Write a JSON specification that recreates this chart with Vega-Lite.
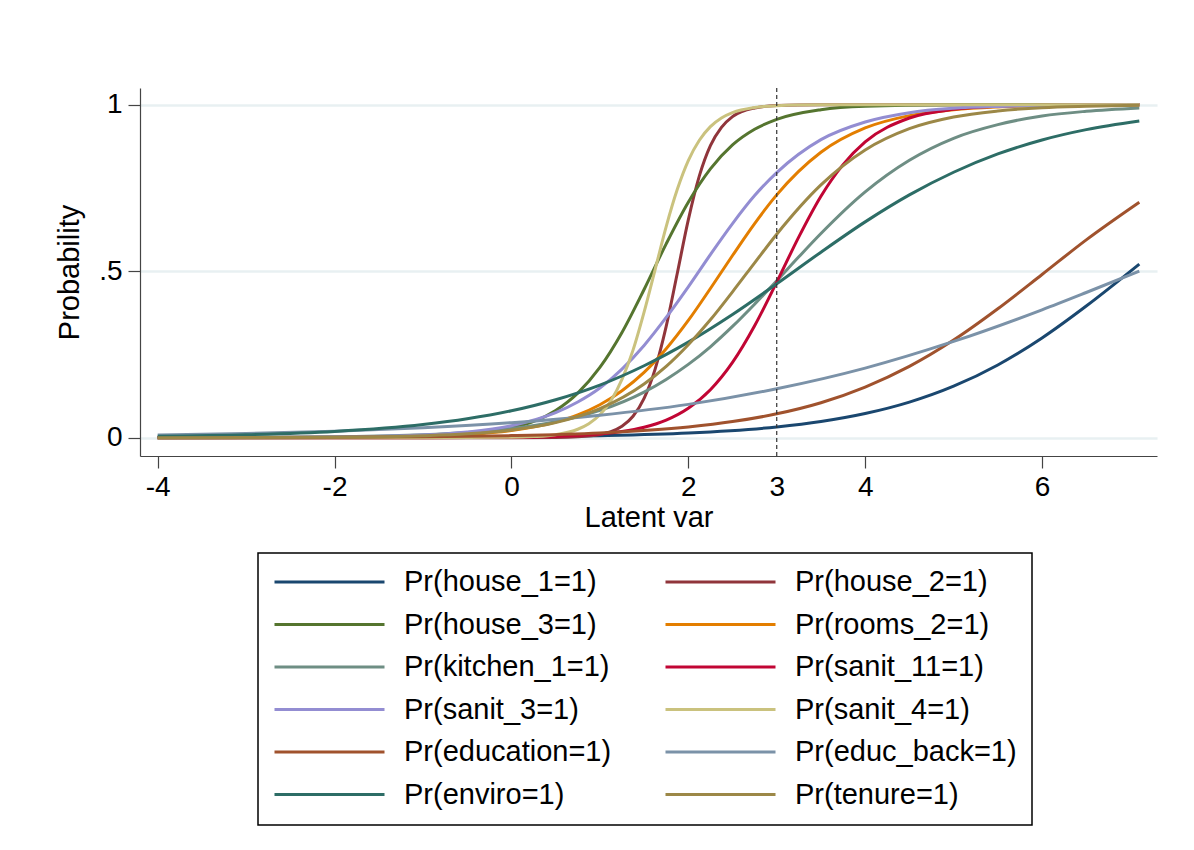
{
  "$schema": "https://vega.github.io/schema/vega-lite/v6.json",
  "autosize": {"type": "none"},
  "width": 1017,
  "height": 368,
  "padding": {"left": 140, "top": 88, "right": 37, "bottom": 394},
  "background": "white",
  "config": {
    "font": "Liberation Sans",
    "view": {"stroke": null},
    "axis": {"labelColor": "black", "titleColor": "black", "titleFontWeight": "normal", "domainColor": "#444", "tickColor": "#444", "domainWidth": 1.2, "tickWidth": 1.2}
  },
  "datasets": {
    "curves": [
      {"x": -4, "s": "Pr(house_1=1)", "p": 0.0001}, {"x": -2, "s": "Pr(house_1=1)", "p": 0.0005}, {"x": 0, "s": "Pr(house_1=1)", "p": 0.0026}, {"x": 1, "s": "Pr(house_1=1)", "p": 0.0061}, {"x": 2, "s": "Pr(house_1=1)", "p": 0.014}, {"x": 3, "s": "Pr(house_1=1)", "p": 0.0323}, {"x": 3.5, "s": "Pr(house_1=1)", "p": 0.0486}, {"x": 4, "s": "Pr(house_1=1)", "p": 0.0724}, {"x": 4.5, "s": "Pr(house_1=1)", "p": 0.1067}, {"x": 5, "s": "Pr(house_1=1)", "p": 0.1545}, {"x": 5.5, "s": "Pr(house_1=1)", "p": 0.2184}, {"x": 6, "s": "Pr(house_1=1)", "p": 0.2994}, {"x": 6.5, "s": "Pr(house_1=1)", "p": 0.3953}, {"x": 7.1, "s": "Pr(house_1=1)", "p": 0.5212},

      {"x": -4, "s": "Pr(house_2=1)", "p": 0}, {"x": -2, "s": "Pr(house_2=1)", "p": 0}, {"x": 0, "s": "Pr(house_2=1)", "p": 0.0001}, {"x": 0.5, "s": "Pr(house_2=1)", "p": 0.0007}, {"x": 0.75, "s": "Pr(house_2=1)", "p": 0.0025}, {"x": 1, "s": "Pr(house_2=1)", "p": 0.0094}, {"x": 1.125, "s": "Pr(house_2=1)", "p": 0.0179}, {"x": 1.25, "s": "Pr(house_2=1)", "p": 0.0342}, {"x": 1.375, "s": "Pr(house_2=1)", "p": 0.0643}, {"x": 1.5, "s": "Pr(house_2=1)", "p": 0.118}, {"x": 1.625, "s": "Pr(house_2=1)", "p": 0.206}, {"x": 1.75, "s": "Pr(house_2=1)", "p": 0.334}, {"x": 1.875, "s": "Pr(house_2=1)", "p": 0.493}, {"x": 2, "s": "Pr(house_2=1)", "p": 0.654}, {"x": 2.125, "s": "Pr(house_2=1)", "p": 0.786}, {"x": 2.25, "s": "Pr(house_2=1)", "p": 0.877}, {"x": 2.375, "s": "Pr(house_2=1)", "p": 0.932}, {"x": 2.5, "s": "Pr(house_2=1)", "p": 0.964}, {"x": 2.75, "s": "Pr(house_2=1)", "p": 0.99}, {"x": 3, "s": "Pr(house_2=1)", "p": 0.9974}, {"x": 3.5, "s": "Pr(house_2=1)", "p": 0.9998}, {"x": 4, "s": "Pr(house_2=1)", "p": 1}, {"x": 5, "s": "Pr(house_2=1)", "p": 1}, {"x": 6, "s": "Pr(house_2=1)", "p": 1}, {"x": 7.1, "s": "Pr(house_2=1)", "p": 1},

      {"x": -4, "s": "Pr(house_3=1)", "p": 0}, {"x": -3, "s": "Pr(house_3=1)", "p": 0}, {"x": -2, "s": "Pr(house_3=1)", "p": 0.0004}, {"x": -1, "s": "Pr(house_3=1)", "p": 0.0033}, {"x": -0.5, "s": "Pr(house_3=1)", "p": 0.0098}, {"x": 0, "s": "Pr(house_3=1)", "p": 0.0288}, {"x": 0.5, "s": "Pr(house_3=1)", "p": 0.0816}, {"x": 0.75, "s": "Pr(house_3=1)", "p": 0.134}, {"x": 1, "s": "Pr(house_3=1)", "p": 0.211}, {"x": 1.25, "s": "Pr(house_3=1)", "p": 0.316}, {"x": 1.5, "s": "Pr(house_3=1)", "p": 0.445}, {"x": 1.75, "s": "Pr(house_3=1)", "p": 0.582}, {"x": 2, "s": "Pr(house_3=1)", "p": 0.707}, {"x": 2.25, "s": "Pr(house_3=1)", "p": 0.807}, {"x": 2.5, "s": "Pr(house_3=1)", "p": 0.879}, {"x": 2.75, "s": "Pr(house_3=1)", "p": 0.926}, {"x": 3, "s": "Pr(house_3=1)", "p": 0.956}, {"x": 3.5, "s": "Pr(house_3=1)", "p": 0.985}, {"x": 4, "s": "Pr(house_3=1)", "p": 0.995}, {"x": 5, "s": "Pr(house_3=1)", "p": 0.9994}, {"x": 6, "s": "Pr(house_3=1)", "p": 1}, {"x": 7.1, "s": "Pr(house_3=1)", "p": 1},

      {"x": -4, "s": "Pr(rooms_2=1)", "p": 0}, {"x": -3, "s": "Pr(rooms_2=1)", "p": 0.0002}, {"x": -2, "s": "Pr(rooms_2=1)", "p": 0.0009}, {"x": -1, "s": "Pr(rooms_2=1)", "p": 0.0045}, {"x": -0.5, "s": "Pr(rooms_2=1)", "p": 0.0099}, {"x": 0, "s": "Pr(rooms_2=1)", "p": 0.0217}, {"x": 0.5, "s": "Pr(rooms_2=1)", "p": 0.047}, {"x": 0.75, "s": "Pr(rooms_2=1)", "p": 0.0685}, {"x": 1, "s": "Pr(rooms_2=1)", "p": 0.0989}, {"x": 1.25, "s": "Pr(rooms_2=1)", "p": 0.141}, {"x": 1.5, "s": "Pr(rooms_2=1)", "p": 0.196}, {"x": 1.75, "s": "Pr(rooms_2=1)", "p": 0.267}, {"x": 2, "s": "Pr(rooms_2=1)", "p": 0.352}, {"x": 2.25, "s": "Pr(rooms_2=1)", "p": 0.448}, {"x": 2.5, "s": "Pr(rooms_2=1)", "p": 0.547}, {"x": 2.75, "s": "Pr(rooms_2=1)", "p": 0.643}, {"x": 3, "s": "Pr(rooms_2=1)", "p": 0.729}, {"x": 3.5, "s": "Pr(rooms_2=1)", "p": 0.857}, {"x": 4, "s": "Pr(rooms_2=1)", "p": 0.93}, {"x": 4.5, "s": "Pr(rooms_2=1)", "p": 0.967}, {"x": 5, "s": "Pr(rooms_2=1)", "p": 0.985}, {"x": 5.5, "s": "Pr(rooms_2=1)", "p": 0.9932}, {"x": 6, "s": "Pr(rooms_2=1)", "p": 0.9969}, {"x": 6.5, "s": "Pr(rooms_2=1)", "p": 0.9986}, {"x": 7.1, "s": "Pr(rooms_2=1)", "p": 0.9995},

      {"x": -4, "s": "Pr(kitchen_1=1)", "p": 0.0003}, {"x": -3, "s": "Pr(kitchen_1=1)", "p": 0.0009}, {"x": -2, "s": "Pr(kitchen_1=1)", "p": 0.0028}, {"x": -1, "s": "Pr(kitchen_1=1)", "p": 0.0088}, {"x": -0.5, "s": "Pr(kitchen_1=1)", "p": 0.0157}, {"x": 0, "s": "Pr(kitchen_1=1)", "p": 0.0274}, {"x": 0.5, "s": "Pr(kitchen_1=1)", "p": 0.0479}, {"x": 1, "s": "Pr(kitchen_1=1)", "p": 0.0819}, {"x": 1.5, "s": "Pr(kitchen_1=1)", "p": 0.137}, {"x": 1.75, "s": "Pr(kitchen_1=1)", "p": 0.175}, {"x": 2, "s": "Pr(kitchen_1=1)", "p": 0.22}, {"x": 2.25, "s": "Pr(kitchen_1=1)", "p": 0.273}, {"x": 2.5, "s": "Pr(kitchen_1=1)", "p": 0.334}, {"x": 2.75, "s": "Pr(kitchen_1=1)", "p": 0.401}, {"x": 3, "s": "Pr(kitchen_1=1)", "p": 0.471}, {"x": 3.25, "s": "Pr(kitchen_1=1)", "p": 0.543}, {"x": 3.5, "s": "Pr(kitchen_1=1)", "p": 0.613}, {"x": 4, "s": "Pr(kitchen_1=1)", "p": 0.738}, {"x": 4.5, "s": "Pr(kitchen_1=1)", "p": 0.833}, {"x": 5, "s": "Pr(kitchen_1=1)", "p": 0.899}, {"x": 5.5, "s": "Pr(kitchen_1=1)", "p": 0.94}, {"x": 6, "s": "Pr(kitchen_1=1)", "p": 0.966}, {"x": 6.5, "s": "Pr(kitchen_1=1)", "p": 0.98}, {"x": 7.1, "s": "Pr(kitchen_1=1)", "p": 0.99},

      {"x": -4, "s": "Pr(sanit_11=1)", "p": 0}, {"x": -2, "s": "Pr(sanit_11=1)", "p": 0}, {"x": -1, "s": "Pr(sanit_11=1)", "p": 0.0001}, {"x": 0, "s": "Pr(sanit_11=1)", "p": 0.0012}, {"x": 0.5, "s": "Pr(sanit_11=1)", "p": 0.0036}, {"x": 1, "s": "Pr(sanit_11=1)", "p": 0.0107}, {"x": 1.25, "s": "Pr(sanit_11=1)", "p": 0.0183}, {"x": 1.5, "s": "Pr(sanit_11=1)", "p": 0.0314}, {"x": 1.75, "s": "Pr(sanit_11=1)", "p": 0.053}, {"x": 2, "s": "Pr(sanit_11=1)", "p": 0.0886}, {"x": 2.25, "s": "Pr(sanit_11=1)", "p": 0.144}, {"x": 2.5, "s": "Pr(sanit_11=1)", "p": 0.226}, {"x": 2.75, "s": "Pr(sanit_11=1)", "p": 0.336}, {"x": 3, "s": "Pr(sanit_11=1)", "p": 0.467}, {"x": 3.25, "s": "Pr(sanit_11=1)", "p": 0.603}, {"x": 3.5, "s": "Pr(sanit_11=1)", "p": 0.725}, {"x": 3.75, "s": "Pr(sanit_11=1)", "p": 0.82}, {"x": 4, "s": "Pr(sanit_11=1)", "p": 0.888}, {"x": 4.5, "s": "Pr(sanit_11=1)", "p": 0.96}, {"x": 5, "s": "Pr(sanit_11=1)", "p": 0.986}, {"x": 5.5, "s": "Pr(sanit_11=1)", "p": 0.9954}, {"x": 6, "s": "Pr(sanit_11=1)", "p": 0.9985}, {"x": 7.1, "s": "Pr(sanit_11=1)", "p": 0.9999},

      {"x": -4, "s": "Pr(sanit_3=1)", "p": 0.0001}, {"x": -3, "s": "Pr(sanit_3=1)", "p": 0.0004}, {"x": -2, "s": "Pr(sanit_3=1)", "p": 0.0017}, {"x": -1, "s": "Pr(sanit_3=1)", "p": 0.0078}, {"x": -0.5, "s": "Pr(sanit_3=1)", "p": 0.017}, {"x": 0, "s": "Pr(sanit_3=1)", "p": 0.036}, {"x": 0.5, "s": "Pr(sanit_3=1)", "p": 0.0751}, {"x": 0.75, "s": "Pr(sanit_3=1)", "p": 0.107}, {"x": 1, "s": "Pr(sanit_3=1)", "p": 0.149}, {"x": 1.25, "s": "Pr(sanit_3=1)", "p": 0.206}, {"x": 1.5, "s": "Pr(sanit_3=1)", "p": 0.277}, {"x": 1.75, "s": "Pr(sanit_3=1)", "p": 0.361}, {"x": 2, "s": "Pr(sanit_3=1)", "p": 0.453}, {"x": 2.25, "s": "Pr(sanit_3=1)", "p": 0.55}, {"x": 2.5, "s": "Pr(sanit_3=1)", "p": 0.643}, {"x": 2.75, "s": "Pr(sanit_3=1)", "p": 0.727}, {"x": 3, "s": "Pr(sanit_3=1)", "p": 0.796}, {"x": 3.5, "s": "Pr(sanit_3=1)", "p": 0.895}, {"x": 4, "s": "Pr(sanit_3=1)", "p": 0.948}, {"x": 4.5, "s": "Pr(sanit_3=1)", "p": 0.976}, {"x": 5, "s": "Pr(sanit_3=1)", "p": 0.989}, {"x": 5.5, "s": "Pr(sanit_3=1)", "p": 0.9947}, {"x": 6, "s": "Pr(sanit_3=1)", "p": 0.9976}, {"x": 6.5, "s": "Pr(sanit_3=1)", "p": 0.9989}, {"x": 7.1, "s": "Pr(sanit_3=1)", "p": 0.9996},

      {"x": -4, "s": "Pr(sanit_4=1)", "p": 0}, {"x": -2, "s": "Pr(sanit_4=1)", "p": 0}, {"x": -1, "s": "Pr(sanit_4=1)", "p": 0}, {"x": 0, "s": "Pr(sanit_4=1)", "p": 0.0011}, {"x": 0.25, "s": "Pr(sanit_4=1)", "p": 0.0032}, {"x": 0.5, "s": "Pr(sanit_4=1)", "p": 0.009}, {"x": 0.75, "s": "Pr(sanit_4=1)", "p": 0.0253}, {"x": 0.875, "s": "Pr(sanit_4=1)", "p": 0.0419}, {"x": 1, "s": "Pr(sanit_4=1)", "p": 0.0688}, {"x": 1.125, "s": "Pr(sanit_4=1)", "p": 0.111}, {"x": 1.25, "s": "Pr(sanit_4=1)", "p": 0.175}, {"x": 1.375, "s": "Pr(sanit_4=1)", "p": 0.263}, {"x": 1.5, "s": "Pr(sanit_4=1)", "p": 0.377}, {"x": 1.625, "s": "Pr(sanit_4=1)", "p": 0.505}, {"x": 1.75, "s": "Pr(sanit_4=1)", "p": 0.634}, {"x": 1.875, "s": "Pr(sanit_4=1)", "p": 0.745}, {"x": 2, "s": "Pr(sanit_4=1)", "p": 0.832}, {"x": 2.125, "s": "Pr(sanit_4=1)", "p": 0.893}, {"x": 2.25, "s": "Pr(sanit_4=1)", "p": 0.934}, {"x": 2.375, "s": "Pr(sanit_4=1)", "p": 0.96}, {"x": 2.5, "s": "Pr(sanit_4=1)", "p": 0.976}, {"x": 2.75, "s": "Pr(sanit_4=1)", "p": 0.9914}, {"x": 3, "s": "Pr(sanit_4=1)", "p": 0.997}, {"x": 3.5, "s": "Pr(sanit_4=1)", "p": 0.9996}, {"x": 4, "s": "Pr(sanit_4=1)", "p": 1}, {"x": 5, "s": "Pr(sanit_4=1)", "p": 1}, {"x": 6, "s": "Pr(sanit_4=1)", "p": 1}, {"x": 7.1, "s": "Pr(sanit_4=1)", "p": 1},

      {"x": -4, "s": "Pr(education=1)", "p": 0.0002}, {"x": -2, "s": "Pr(education=1)", "p": 0.0012}, {"x": -1, "s": "Pr(education=1)", "p": 0.0027}, {"x": 0, "s": "Pr(education=1)", "p": 0.0062}, {"x": 1, "s": "Pr(education=1)", "p": 0.0142}, {"x": 2, "s": "Pr(education=1)", "p": 0.0322}, {"x": 2.5, "s": "Pr(education=1)", "p": 0.0483}, {"x": 3, "s": "Pr(education=1)", "p": 0.0717}, {"x": 3.5, "s": "Pr(education=1)", "p": 0.105}, {"x": 4, "s": "Pr(education=1)", "p": 0.152}, {"x": 4.5, "s": "Pr(education=1)", "p": 0.214}, {"x": 5, "s": "Pr(education=1)", "p": 0.293}, {"x": 5.5, "s": "Pr(education=1)", "p": 0.387}, {"x": 6, "s": "Pr(education=1)", "p": 0.49}, {"x": 6.5, "s": "Pr(education=1)", "p": 0.594}, {"x": 7.1, "s": "Pr(education=1)", "p": 0.707},

      {"x": -4, "s": "Pr(educ_back=1)", "p": 0.0084}, {"x": -3, "s": "Pr(educ_back=1)", "p": 0.0128}, {"x": -2, "s": "Pr(educ_back=1)", "p": 0.0196}, {"x": -1, "s": "Pr(educ_back=1)", "p": 0.0299}, {"x": 0, "s": "Pr(educ_back=1)", "p": 0.0452}, {"x": 1, "s": "Pr(educ_back=1)", "p": 0.0677}, {"x": 2, "s": "Pr(educ_back=1)", "p": 0.1}, {"x": 3, "s": "Pr(educ_back=1)", "p": 0.147}, {"x": 4, "s": "Pr(educ_back=1)", "p": 0.209}, {"x": 5, "s": "Pr(educ_back=1)", "p": 0.289}, {"x": 6, "s": "Pr(educ_back=1)", "p": 0.384}, {"x": 6.5, "s": "Pr(educ_back=1)", "p": 0.436}, {"x": 7.1, "s": "Pr(educ_back=1)", "p": 0.5},

      {"x": -4, "s": "Pr(enviro=1)", "p": 0.0042}, {"x": -3, "s": "Pr(enviro=1)", "p": 0.0089}, {"x": -2, "s": "Pr(enviro=1)", "p": 0.0189}, {"x": -1, "s": "Pr(enviro=1)", "p": 0.0395}, {"x": -0.5, "s": "Pr(enviro=1)", "p": 0.0567}, {"x": 0, "s": "Pr(enviro=1)", "p": 0.0808}, {"x": 0.5, "s": "Pr(enviro=1)", "p": 0.114}, {"x": 1, "s": "Pr(enviro=1)", "p": 0.158}, {"x": 1.5, "s": "Pr(enviro=1)", "p": 0.216}, {"x": 2, "s": "Pr(enviro=1)", "p": 0.287}, {"x": 2.5, "s": "Pr(enviro=1)", "p": 0.37}, {"x": 3, "s": "Pr(enviro=1)", "p": 0.462}, {"x": 3.5, "s": "Pr(enviro=1)", "p": 0.557}, {"x": 4, "s": "Pr(enviro=1)", "p": 0.648}, {"x": 4.5, "s": "Pr(enviro=1)", "p": 0.729}, {"x": 5, "s": "Pr(enviro=1)", "p": 0.797}, {"x": 5.5, "s": "Pr(enviro=1)", "p": 0.852}, {"x": 6, "s": "Pr(enviro=1)", "p": 0.894}, {"x": 6.5, "s": "Pr(enviro=1)", "p": 0.925}, {"x": 7.1, "s": "Pr(enviro=1)", "p": 0.951},

      {"x": -4, "s": "Pr(tenure=1)", "p": 0.0001}, {"x": -3, "s": "Pr(tenure=1)", "p": 0.0004}, {"x": -2, "s": "Pr(tenure=1)", "p": 0.0014}, {"x": -1, "s": "Pr(tenure=1)", "p": 0.0058}, {"x": -0.5, "s": "Pr(tenure=1)", "p": 0.0115}, {"x": 0, "s": "Pr(tenure=1)", "p": 0.023}, {"x": 0.5, "s": "Pr(tenure=1)", "p": 0.0452}, {"x": 1, "s": "Pr(tenure=1)", "p": 0.087}, {"x": 1.5, "s": "Pr(tenure=1)", "p": 0.161}, {"x": 1.75, "s": "Pr(tenure=1)", "p": 0.214}, {"x": 2, "s": "Pr(tenure=1)", "p": 0.279}, {"x": 2.25, "s": "Pr(tenure=1)", "p": 0.354}, {"x": 2.5, "s": "Pr(tenure=1)", "p": 0.438}, {"x": 2.75, "s": "Pr(tenure=1)", "p": 0.525}, {"x": 3, "s": "Pr(tenure=1)", "p": 0.611}, {"x": 3.5, "s": "Pr(tenure=1)", "p": 0.759}, {"x": 4, "s": "Pr(tenure=1)", "p": 0.864}, {"x": 4.5, "s": "Pr(tenure=1)", "p": 0.928}, {"x": 5, "s": "Pr(tenure=1)", "p": 0.963}, {"x": 5.5, "s": "Pr(tenure=1)", "p": 0.981}, {"x": 6, "s": "Pr(tenure=1)", "p": 0.991}, {"x": 6.5, "s": "Pr(tenure=1)", "p": 0.9953}, {"x": 7.1, "s": "Pr(tenure=1)", "p": 0.998}
    ],
    "marker": [{"xline": 3}]
  },
  "layer": [
    {
      "data": {"name": "curves"},
      "mark": {"type": "line", "strokeWidth": 3, "interpolate": "monotone", "clip": false},
      "encoding": {
        "x": {
          "field": "x", "type": "quantitative",
          "scale": {"domain": [-4.2, 7.3], "nice": false, "zero": false},
          "axis": {
            "title": "Latent var", "titleFontSize": 29, "titlePadding": 2,
            "values": [-4, -2, 0, 2, 3, 4, 6],
            "labelExpr": "'' + datum.value",
            "labelFontSize": 28, "labelPadding": 5, "tickSize": 12,
            "tickOpacity": {"condition": {"test": "datum.value == 3", "value": 0}, "value": 1},
            "grid": false, "labelFlush": false, "labelOverlap": false
          }
        },
        "y": {
          "field": "p", "type": "quantitative",
          "scale": {"domain": [-0.055, 1.05], "nice": false, "zero": false},
          "axis": {
            "title": "Probability", "titleFontSize": 29, "titlePadding": 14,
            "values": [0, 0.5, 1],
            "labelExpr": "datum.value == 0.5 ? '.5' : '' + datum.value",
            "labelFontSize": 28, "labelPadding": 6, "tickSize": 12, "labelAngle": 0,
            "grid": true, "gridColor": "#e8f0f2", "gridWidth": 2.5
          }
        },
        "color": {
          "field": "s", "type": "nominal",
          "scale": {
            "domain": ["Pr(house_1=1)", "Pr(house_2=1)", "Pr(house_3=1)", "Pr(rooms_2=1)", "Pr(kitchen_1=1)", "Pr(sanit_11=1)", "Pr(sanit_3=1)", "Pr(sanit_4=1)", "Pr(education=1)", "Pr(educ_back=1)", "Pr(enviro=1)", "Pr(tenure=1)"],
            "range": ["#1a476f", "#90353b", "#55752f", "#e37e00", "#6e8e84", "#c10534", "#938dd2", "#cac27e", "#a0522d", "#7b92a8", "#2d6d66", "#9c8847"]
          },
          "legend": {
            "title": null, "orient": "none", "legendX": 118, "legendY": 465,
            "columns": 2, "direction": "horizontal",
            "symbolType": "stroke", "symbolSize": 12100, "symbolStrokeWidth": 3,
            "clipHeight": 28,
            "labelFontSize": 29, "labelColor": "black", "labelOffset": 18, "labelLimit": 400,
            "rowPadding": 13.5, "columnPadding": 52, "padding": 15,
            "strokeColor": "black",
            "encode": {"legend": {"update": {"strokeWidth": {"value": 1.5}}}}
          }
        }
      }
    },
    {
      "data": {"name": "marker"},
      "mark": {"type": "rule", "color": "#333", "strokeWidth": 1.2, "strokeDash": [4, 3]},
      "encoding": {
        "x": {"field": "xline", "type": "quantitative"}
      }
    }
  ]
}
